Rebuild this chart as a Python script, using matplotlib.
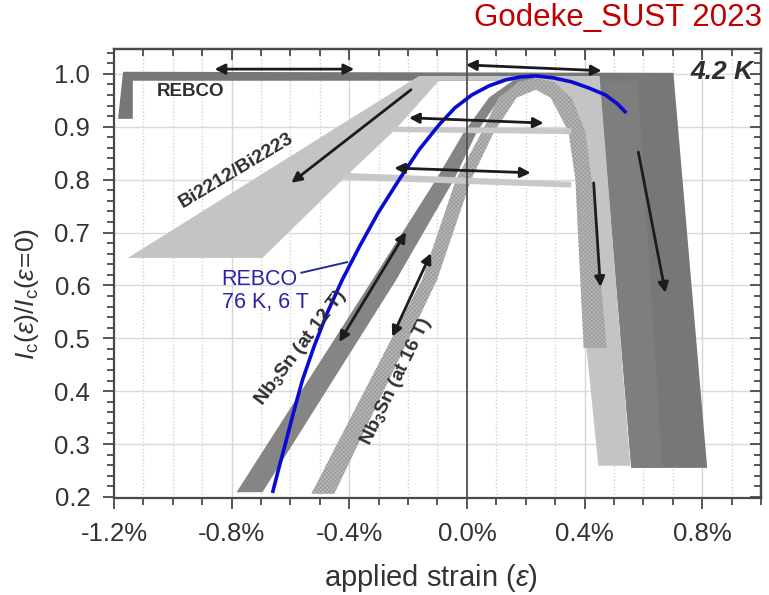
import numpy as np
import matplotlib
matplotlib.use('Agg')
import matplotlib.pyplot as plt
from matplotlib.patches import Polygon
from matplotlib.ticker import MultipleLocator

plt.rcParams['font.family'] = ['Liberation Sans', 'DejaVu Sans']
plt.rcParams['mathtext.fontset'] = 'custom'
plt.rcParams['mathtext.rm'] = 'Liberation Sans'
plt.rcParams['mathtext.it'] = 'Liberation Sans:italic'
plt.rcParams['mathtext.bf'] = 'Liberation Sans:bold'
plt.rcParams['hatch.linewidth'] = 0.5

# strain in %, normalised critical current
# REBCO at 4.2 K: plateau near 1.0 with steep drops at both ends
rebco_x = [-1.186, -1.169, 0.702, 0.817, 0.559, 0.451, -1.136, -1.136]
rebco_y = [0.915, 1.004, 1.002, 0.255, 0.255, 0.987, 0.987, 0.915]
rebco_inner_x = [0.451, 0.58, 0.665, 0.559]
rebco_inner_y = [0.987, 0.987, 0.255, 0.255]

# Bi2212/Bi2223 envelope
bi_x = [-1.153, -0.163, 0.451, 0.556, 0.447, 0.407, 0.369, 0.353, 0.295, 0.261,
        -0.095, -0.241, -0.410, -0.695]
bi_y = [0.652, 0.996, 0.996, 0.259, 0.259, 0.478, 0.818, 0.887, 0.960, 0.987,
        0.987, 0.896, 0.807, 0.652]
# reversible Bi bars (left end, right end; top, bottom)
bar_x = [[-0.25, 0.355], [-0.42, 0.355]]
bar_top = [[0.900, 0.897], [0.813, 0.796]]
bar_bot = [[0.890, 0.886], [0.800, 0.785]]

# Nb3Sn at 12 T
nb12_x = [-0.783, -0.322, -0.105, -0.010, 0.075, 0.166, 0.210,
          0.244, 0.108, 0.034, -0.044, -0.241, -0.695]
nb12_y = [0.209, 0.610, 0.800, 0.890, 0.955, 0.991, 0.994,
          0.989, 0.951, 0.890, 0.800, 0.610, 0.209]

# Nb3Sn at 16 T
nb16_x = [-0.529, -0.153, -0.037, 0.051, 0.108, 0.176, 0.234, 0.295, 0.356,
          0.403, 0.424, 0.475, 0.397, 0.369, 0.346, 0.285, 0.234, 0.169,
          0.092, 0.014, -0.102, -0.451]
nb16_y = [0.206, 0.610, 0.800, 0.890, 0.955, 0.985, 0.992, 0.985, 0.955,
          0.890, 0.800, 0.482, 0.482, 0.800, 0.890, 0.955, 0.970, 0.955,
          0.890, 0.800, 0.610, 0.206]

# REBCO at 76 K, 6 T
blue_x = [-0.661, -0.641, -0.620, -0.590, -0.559, -0.519, -0.475, -0.424, -0.366,
          -0.302, -0.231, -0.163, -0.095, -0.041, 0.017, 0.075, 0.132, 0.183,
          0.234, 0.295, 0.356, 0.414, 0.471, 0.512, 0.542]
blue_y = [0.2076, 0.2511, 0.2946, 0.3589, 0.4213, 0.4856, 0.5480, 0.6104, 0.6728,
          0.7371, 0.7995, 0.8563, 0.9035, 0.9357, 0.9603, 0.9773, 0.9887, 0.9943,
          0.9962, 0.9924, 0.9849, 0.9735, 0.9603, 0.9433, 0.9262]

# arrows: start, end, double headed?
arrows = [
    ((-0.858, 1.009), (-0.383, 1.009), True),
    ((-0.003, 1.017), (0.458, 1.006), True),
    ((-0.190, 0.970), (-0.597, 0.794), False),
    ((-0.197, 0.917), (0.261, 0.907), True),
    ((-0.247, 0.822), (0.217, 0.813), True),
    ((-0.434, 0.493), (-0.207, 0.701), True),
    ((-0.254, 0.503), (-0.122, 0.661), True),
    ((0.431, 0.794), (0.454, 0.597), False),
    ((0.583, 0.852), (0.675, 0.586), False),
]

x_major = [-1.2, -0.8, -0.4, 0.0, 0.4, 0.8]
x_labels = ['-1.2%', '-0.8%', '-0.4%', '0.0%', '0.4%', '0.8%']
y_major = [0.2, 0.3, 0.4, 0.5, 0.6, 0.7, 0.8, 0.9, 1.0]

fig = plt.figure(figsize=(7.69, 5.95), dpi=100)
ax = fig.add_axes([0.1482, 0.1630, 0.8414, 0.7546])
ax.set_xlim(-1.2, 1.0)
ax.set_ylim(0.198, 1.047)

# grid
for yv in y_major[1:]:
    ax.axhline(yv, color='#dadada', lw=1.0, zorder=0)
for xv in np.arange(-1.1, 1.0, 0.1):
    if abs(round(xv, 1)) < 1e-9:
        continue
    if abs(round(xv * 10) % 4) == 0:
        ax.axvline(xv, color='#d6d6d6', lw=1.0, zorder=0)
    else:
        ax.axvline(xv, color='#d2d2d2', lw=1.0, ls=(0, (1, 1.5)), zorder=0)

ax.add_patch(Polygon(np.column_stack([rebco_x, rebco_y]), closed=True,
                     facecolor='#777777', edgecolor='none', zorder=1))
ax.add_patch(Polygon(np.column_stack([rebco_inner_x, rebco_inner_y]), closed=True,
                     facecolor='#7e7e7e', edgecolor='none', zorder=1.1))
ax.add_patch(Polygon(np.column_stack([bi_x, bi_y]), closed=True,
                     facecolor='#c4c4c4', edgecolor='none', zorder=2))
ax.add_patch(Polygon(np.column_stack([nb12_x, nb12_y]), closed=True,
                     facecolor='#858585', edgecolor='none', zorder=3))
ax.add_patch(Polygon(np.column_stack([nb16_x, nb16_y]), closed=True,
                     facecolor='#b6b6b6', edgecolor='#989898', lw=0,
                     hatch='xxxxxxxx', zorder=4))
for bx, bt, bb in zip(bar_x, bar_top, bar_bot):
    pts = [(bx[0], bt[0]), (bx[1], bt[1]), (bx[1], bb[1]), (bx[0], bb[0])]
    ax.add_patch(Polygon(pts, closed=True, facecolor='#c8c8c8',
                         edgecolor='none', zorder=5))

ax.axvline(0.0, color='#505050', lw=1.3, zorder=6)

ax.plot(blue_x, blue_y, color='#0a0ad2', lw=2.6, solid_capstyle='butt', zorder=7)

for start, end, both in arrows:
    style = '<|-|>' if both else '-|>'
    ax.annotate('', xy=end, xytext=start, zorder=8,
                arrowprops=dict(arrowstyle=style, color='#1c1c1c', lw=2.0,
                                mutation_scale=15, shrinkA=0, shrinkB=0))

txt = '#2e2e2e'
ax.text(-0.939, 0.966, 'REBCO', fontsize=13.5, fontweight='bold', color=txt,
        ha='center', va='center', zorder=9)
ax.text(-0.783, 0.818, 'Bi2212/Bi2223', fontsize=14, fontweight='bold',
        color=txt, rotation=31, rotation_mode='anchor', ha='center',
        va='center', zorder=9)
ax.text(-0.563, 0.482, r'Nb$_{\mathbf{3}}$Sn (at 12 T)', fontsize=14,
        fontweight='bold', color=txt, rotation=53, rotation_mode='anchor',
        ha='center', va='center', zorder=9)
ax.text(-0.241, 0.419, r'Nb$_{\mathbf{3}}$Sn (at 16 T)', fontsize=14,
        fontweight='bold', color=txt, rotation=64, rotation_mode='anchor',
        ha='center', va='center', zorder=9)
ax.text(0.975, 1.003, '4.2 K', fontsize=19, fontweight='bold', style='italic',
        color=txt, ha='right', va='center', zorder=9)
ax.text(-0.834, 0.590, 'REBCO\n76 K, 6 T', fontsize=15.5, color='#2626a6',
        ha='left', va='center', linespacing=1.1, zorder=9)
ax.plot([-0.563, -0.407], [0.624, 0.644], color='#2626a6', lw=1.4, zorder=9)

# ticks: outward on bottom/left, inward on top/right
ax.set_xticks(x_major)
ax.set_xticklabels(x_labels)
ax.set_yticks(y_major)
ax.set_yticklabels([f'{v:.1f}' for v in y_major])
ax.xaxis.set_minor_locator(MultipleLocator(0.1))
ax.yaxis.set_minor_locator(MultipleLocator(0.02))
ax.tick_params(which='both', direction='out', colors='#4a4a4a', width=1.3,
               labelcolor='#333333', labelsize=18.5)
ax.tick_params(which='major', length=8, pad=9)
ax.tick_params(which='minor', length=5)

top = ax.secondary_xaxis('top')
top.set_xticks(x_major)
top.xaxis.set_minor_locator(MultipleLocator(0.1))
top.tick_params(which='both', direction='in', labeltop=False, colors='#4a4a4a',
                width=1.3)
top.tick_params(which='major', length=8)
top.tick_params(which='minor', length=5)
right = ax.secondary_yaxis('right')
right.set_yticks(y_major)
right.yaxis.set_minor_locator(MultipleLocator(0.02))
right.tick_params(which='both', direction='in', labelright=False, colors='#4a4a4a',
                  width=1.3)
right.tick_params(which='major', length=8)
right.tick_params(which='minor', length=5)

for s in list(ax.spines.values()) + [top.spines['top'], right.spines['right']]:
    s.set_color('#4a4a4a')
    s.set_linewidth(1.6)

ax.set_xlabel(r'applied strain ($\varepsilon$)', fontsize=21, color='#333333',
              va='center')
ax.xaxis.set_label_coords(0.49, -0.178)
ax.set_ylabel(r'$I_\mathrm{c}(\varepsilon)/I_\mathrm{c}(\varepsilon\!=\!0)$',
              fontsize=19, color='#333333', va='center')
ax.yaxis.set_label_coords(-0.135, 0.455)

fig.text(0.991, 0.970, 'Godeke_SUST 2023', fontsize=22.5, color='#c00000',
         ha='right', va='center')

fig.savefig('out.png', dpi=100)
